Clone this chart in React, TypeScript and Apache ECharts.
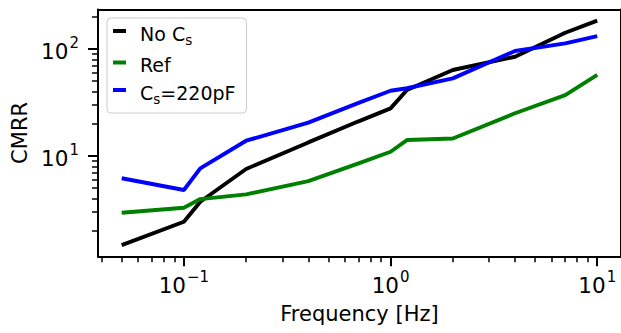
import React, { useEffect, useRef } from "react";
import * as echarts from "echarts";

const freq = [0.05, 0.1, 0.12, 0.2, 0.4, 0.7, 1, 1.2, 2, 4, 7, 10];
const noCs = [1.47, 2.43, 3.74, 7.57, 13.4, 21.1, 27.9, 41.4, 63.7, 84.7, 142, 184];
const ref = [2.95, 3.29, 3.96, 4.38, 5.83, 8.55, 10.96, 14.1, 14.6, 25.1, 37.1, 57.2];
const cs220 = [6.2, 4.81, 7.67, 13.9, 20.5, 31.4, 40.7, 43, 53.2, 95.8, 113, 132];

const seriesNames = ["No Cs", "Ref", "Cs=220pF"];
const legendLabels = ["{base|No C}{sub|s}", "{base|Ref}", "{base|C}{sub|s}{base|=220pF}"];
const seriesColors = ["#000000", "#008000", "#0000ff"];

const xMajor = [0.1, 1, 10];
const xMajorLabels = ["{base|10}{sup|−1}", "{base|10}{sup|0}", "{base|10}{sup|1}"];
const xMinor = [0.04, 0.05, 0.06, 0.07, 0.08, 0.09, 0.2, 0.3, 0.4, 0.5, 0.6, 0.7, 0.8, 0.9, 2, 3, 4, 5, 6, 7, 8, 9];
const yMajor = [10, 100];
const yMajorLabels = ["{base|10}{sup|1}", "{base|10}{sup|2}"];
const yMinor = [2, 3, 4, 5, 6, 7, 8, 9, 20, 30, 40, 50, 60, 70, 80, 90, 200];

const X_MIN = 0.0384;
const X_MAX = 13.03;
const Y_MIN = 1.156;
const Y_MAX = 234;

const FONT = "DejaVu Sans";

export default function App() {
  const ref1 = useRef<HTMLDivElement>(null);
  useEffect(() => {
    if (!ref1.current) return;
    const chart = echarts.init(ref1.current, undefined, { renderer: "svg" });
    const supRich = {
      base: { fontSize: 21.5, fontFamily: FONT, color: "#000", lineHeight: 27, verticalAlign: "bottom" },
      sup: { fontSize: 15, fontFamily: FONT, color: "#000", lineHeight: 27, verticalAlign: "top", padding: [0, 0, 0, 1] },
    };
    const fmt = (labels: string[], vals: number[]) => (v: number) => {
      const i = vals.findIndex((m) => Math.abs(m - v) / m < 1e-6);
      return i < 0 ? "" : labels[i];
    };
    const commonX = { type: "log", min: X_MIN, max: X_MAX, logBase: 10, splitLine: { show: false } };
    const commonY = { type: "log", min: Y_MIN, max: Y_MAX, logBase: 10, splitLine: { show: false } };
    const spine = { show: true, lineStyle: { color: "#000", width: 2 } };
    const option: any = {
      animation: false,
      grid: { left: 98, top: 9.5, width: 525.6, height: 246.8, containLabel: false },
      xAxis: [
        {
          ...commonX,
          position: "bottom",
          axisLine: spine,
          axisTick: { show: true, inside: false, length: 10, lineStyle: { color: "#000", width: 2 }, customValues: xMajor },
          axisLabel: { show: true, margin: 13, customValues: xMajor, formatter: fmt(xMajorLabels, xMajor), rich: supRich },
          name: "Frequency [Hz]",
          nameLocation: "middle",
          nameGap: 47,
          nameTextStyle: { fontSize: 21, fontFamily: FONT, color: "#000" },
        },
        {
          ...commonX,
          position: "bottom",
          axisLine: { show: false },
          axisTick: { show: true, inside: false, length: 6, lineStyle: { color: "#000", width: 1.5 }, customValues: xMinor },
          axisLabel: { show: false },
        },
        {
          ...commonX,
          position: "top",
          axisLine: spine,
          axisTick: { show: false },
          axisLabel: { show: false },
        },
      ],
      yAxis: [
        {
          ...commonY,
          position: "left",
          axisLine: spine,
          axisTick: { show: true, inside: false, length: 10, lineStyle: { color: "#000", width: 2 }, customValues: yMajor },
          axisLabel: { show: true, margin: 19, customValues: yMajor, formatter: fmt(yMajorLabels, yMajor), rich: supRich },
          name: "CMRR",
          nameLocation: "middle",
          nameGap: 60,
          nameTextStyle: { fontSize: 21, fontFamily: FONT, color: "#000" },
        },
        {
          ...commonY,
          position: "left",
          axisLine: { show: false },
          axisTick: { show: true, inside: false, length: 6, lineStyle: { color: "#000", width: 1.5 }, customValues: yMinor },
          axisLabel: { show: false },
        },
        {
          ...commonY,
          position: "right",
          axisLine: spine,
          axisTick: { show: false },
          axisLabel: { show: false },
        },
      ],
      legend: {
        left: 107,
        top: 18,
        orient: "vertical",
        data: seriesNames.map((n) => ({ name: n, icon: "rect" })),
        itemWidth: 13,
        itemHeight: 4,
        itemGap: 8.5,
        padding: [6, 11, 7, 6],
        backgroundColor: "rgba(255,255,255,0.8)",
        borderColor: "#cccccc",
        borderWidth: 1,
        borderRadius: 4,
        formatter: (name: string) => legendLabels[seriesNames.indexOf(name)],
        textStyle: {
          fontSize: 19,
          fontFamily: FONT,
          color: "#000",
          padding: [0, 0, 0, 9],
          rich: {
            base: { fontSize: 19, fontFamily: FONT, color: "#000", lineHeight: 24, verticalAlign: "bottom" },
            sub: { fontSize: 13.5, fontFamily: FONT, color: "#000", lineHeight: 24, verticalAlign: "bottom", padding: [0, 0, -4, 0] },
          },
        },
      },
      series: [noCs, ref, cs220].map((vals, si) => ({
        name: seriesNames[si],
        type: "line",
        xAxisIndex: 0,
        yAxisIndex: 0,
        data: freq.map((f, i) => [f, vals[i]]),
        showSymbol: false,
        symbol: "none",
        lineStyle: { color: seriesColors[si], width: 3.9 },
        itemStyle: { color: seriesColors[si] },
        clip: true,
      })),
    };
    chart.setOption(option);
    return () => chart.dispose();
  }, []);
  return <div ref={ref1} style={{ width: 621, height: 333, position: "absolute", left: 0, top: 0 }} />;
}
